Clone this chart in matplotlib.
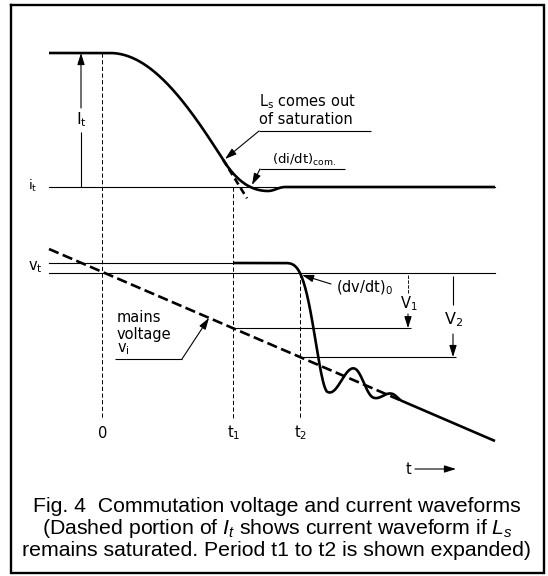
import numpy as np
import matplotlib
matplotlib.use("Agg")
import matplotlib.pyplot as plt

plt.rcParams["lines.scale_dashes"] = False
plt.rcParams["mathtext.fontset"] = "custom"
plt.rcParams["mathtext.rm"] = "DejaVu Sans"
plt.rcParams["mathtext.it"] = "Liberation Sans:italic"

# ---- waveform geometry, in figure pixels (y grows downward) ----
time_marks_x = [102, 233, 300]
time_labels = ["0", r"$\mathregular{t_1}$", r"$\mathregular{t_2}$"]
current_levels_y = [53, 187]        # I_t level, i_t level
voltage_levels_y = [263, 273]       # upper and lower v_t lines
trace_x = [49, 495]                 # left / right ends of the traces
mains_y = [249, 441]                # mains voltage at the trace ends

current_fall = [110, 130]           # start of fall, quarter-period width
sat_exit_x = 223                    # L_s comes out of saturation
sat_dash_end_x = 247
current_dip = [268, 4]              # position and depth of the undershoot
current_settle_x = 285

v_knee_x = 283
ring_x = [328, 355, 373, 393, 402]  # extremes of the ringing
ring_dev = [23, -12, 9, -3, 0]      # offset from the mains voltage

TH = 0.8    # thin line width, pt
TK = 1.9    # heavy line width, pt
FS = 10.5   # label size


def mains(x):
    return np.interp(x, trace_x, mains_y)


def half_cos(x, x0, x1, y0, y1):
    u = (x - x0) / (x1 - x0)
    return y0 + (y1 - y0) * (1 - np.cos(np.pi * u)) / 2


def sat_curve(x):
    x0, w = current_fall
    return current_levels_y[0] + (current_levels_y[1] - current_levels_y[0]) * (
        1 - np.cos(np.pi / 2 * (x - x0) / w))


def hermite(x, x0, x1, y0, y1, m0, m1):
    L = x1 - x0
    s = (x - x0) / L
    h00 = 2 * s**3 - 3 * s**2 + 1
    h10 = s**3 - 2 * s**2 + s
    h01 = -2 * s**3 + 3 * s**2
    h11 = s**3 - s**2
    return y0 * h00 + L * m0 * h10 + y1 * h01 + L * m1 * h11


fig = plt.figure(figsize=(5.48, 5.76), dpi=100)
ax = fig.add_axes([0, 0, 1, 1])
ax.set_xlim(0, 548)
ax.set_ylim(576, 0)
ax.axis("off")

# frame
ax.plot([10.5, 544, 544, 10.5, 10.5], [5, 5, 572.5, 572.5, 5], color="k",
        lw=1.7, solid_joinstyle="miter")

I_top, i_t = current_levels_y
v_up, v_lo = voltage_levels_y
xl, xr = trace_x

# ---- current waveform ----
x0, w = current_fall
xa = np.linspace(xl, x0, 20)
xb = np.linspace(x0, sat_exit_x, 120)
slope0 = (i_t - I_top) * (np.pi / 2) / w * np.sin(
    np.pi / 2 * (sat_exit_x - x0) / w)
xc = np.linspace(sat_exit_x, current_dip[0], 80)
yc = i_t + hermite(xc, sat_exit_x, current_dip[0],
                   sat_curve(sat_exit_x) - i_t, current_dip[1], slope0, 0)
xd = np.linspace(current_dip[0], current_settle_x, 30)
yd = half_cos(xd, current_dip[0], current_settle_x, i_t + current_dip[1], i_t)
xe = np.array([current_settle_x, xr])
cur_x = np.concatenate([xa, xb, xc, xd, xe])
cur_y = np.concatenate([np.full_like(xa, I_top), sat_curve(xb), yc, yd,
                        np.full_like(xe, i_t)])
ax.plot(cur_x, cur_y, color="k", lw=TK, solid_capstyle="butt")
# current if L_s stayed saturated
xs = np.linspace(sat_exit_x, sat_dash_end_x, 20)
ax.plot(xs, sat_curve(xs), color="k", lw=TK, dashes=(5, 3))
# i_t reference line
ax.plot([xl, xr], [i_t, i_t], color="k", lw=TH)

# ---- voltage waveform ----
ax.plot([xl, xr], [v_lo, v_lo], color="k", lw=TH)
ax.plot([xl, time_marks_x[1]], [v_up, v_up], color="k", lw=TH)
vx = [np.linspace(time_marks_x[1], v_knee_x, 20)]
vy = [np.full(20, v_up)]
xk = np.linspace(v_knee_x, ring_x[0], 80)
uk = ((xk - v_knee_x) / (ring_x[0] - v_knee_x)) ** 1.76
y_trough = mains(ring_x[0]) + ring_dev[0]
vx.append(xk)
vy.append(v_up + (y_trough - v_up) * (1 - np.cos(np.pi * uk)) / 2)
for i in range(len(ring_x) - 1):
    xr_seg = np.linspace(ring_x[i], ring_x[i + 1], 40)
    vx.append(xr_seg)
    vy.append(mains(xr_seg) + half_cos(xr_seg, ring_x[i], ring_x[i + 1],
                                       ring_dev[i], ring_dev[i + 1]))
xt = np.array([ring_x[-1], xr])
vx.append(xt)
vy.append(mains(xt))
ax.plot(np.concatenate(vx), np.concatenate(vy), color="k", lw=TK,
        solid_capstyle="butt", solid_joinstyle="round")

# mains voltage (dashed up to where the thyristor voltage settles)
xm = np.array([xl, ring_x[-1]])
ax.plot(xm, mains(xm), color="k", lw=TK, dashes=(7.5, 3.2))

# ---- time markers ----
time_tops = [I_top, i_t, v_lo]
for x, top, lab in zip(time_marks_x, time_tops, time_labels):
    ax.plot([x, x], [top, 419], color="k", lw=TH * 0.9, dashes=(3.0, 1.8))
    ax.text(x + 1, 433, lab, ha="center", va="center", fontsize=FS)


def arrow(tip, tail, lw=TH):
    ax.annotate("", xy=tip, xytext=tail,
                arrowprops=dict(arrowstyle="-|>,head_length=0.7,head_width=0.22",
                                lw=lw, color="k", shrinkA=0, shrinkB=0,
                                mutation_scale=10))


def seg(xs_, ys_, lw=TH):
    ax.plot(xs_, ys_, color="k", lw=lw, solid_capstyle="butt")


# I_t amplitude arrow
seg([81, 81], [i_t, 132])
arrow((81, I_top), (81, 108))
ax.text(81, 120, r"$\mathregular{I_t}$", ha="center", va="center",
        fontsize=FS + 1)
ax.text(33, i_t - 1, r"$\mathregular{i_t}$", ha="center", va="center",
        fontsize=FS - 1)
ax.text(35, v_up + 4, r"$\mathregular{v_t}$", ha="center", va="center",
        fontsize=FS)

# annotations on the current trace
ax.text(259, 102, r"$\mathregular{L_s}$ comes out", ha="left", va="center",
        fontsize=FS)
ax.text(259, 119, "of saturation", ha="left", va="center", fontsize=FS)
seg([259, 371], [131, 131])
arrow((225, 159), (259, 131))
ax.text(272, 160, r"$\mathregular{(di/dt)_{com.}}$", ha="left",
        va="center", fontsize=FS - 1)
seg([260, 345], [169, 169])
arrow((252, 185), (260, 169))

# annotations on the voltage trace
ax.text(336, 288, r"$\mathregular{(dv/dt)_0}$", ha="left", va="center",
        fontsize=FS)
arrow((302, 275), (331, 284))

v1_x, v2_x = 408, 453
y_v1 = mains(time_marks_x[1])
y_v2 = mains(time_marks_x[2])
seg([time_marks_x[1], v1_x + 3], [y_v1, y_v1])
seg([time_marks_x[2], v2_x + 3], [y_v2, y_v2])
ax.plot([v1_x, v1_x], [v_lo + 2, 293], color="k", lw=TH * 0.8,
        dashes=(2.5, 1))
arrow((v1_x, y_v1), (v1_x, 314))
ax.text(v1_x + 1, 304, r"$\mathregular{V_1}$", ha="center", va="center",
        fontsize=FS)
seg([v2_x, v2_x], [v_lo + 3, 305])
arrow((v2_x, y_v2), (v2_x, 334))
ax.text(v2_x + 1, 320, r"$\mathregular{V_2}$", ha="center", va="center",
        fontsize=FS + 1)

ax.text(117, 318, "mains", ha="left", va="center", fontsize=FS)
ax.text(117, 334, "voltage", ha="left", va="center", fontsize=FS)
ax.text(117, 349, r"$\mathregular{v_i}$", ha="left", va="center", fontsize=FS)
seg([115, 182], [359, 359])
arrow((209, mains(209)), (182, 359))

# time axis arrow
ax.text(409, 469, "t", ha="center", va="center", fontsize=FS)
arrow((456, 469), (415, 469))

# caption
cap = dict(ha="center", va="center", fontsize=15.3, family="Liberation Sans")
ax.text(277, 507, "Fig. 4  Commutation voltage and current waveforms", **cap)
ax.text(277, 528, r"(Dashed portion of $\mathit{I_t}$ shows current waveform "
        r"if $\mathit{L_s}$", **cap)
ax.text(277, 550, "remains saturated. Period t1 to t2 is shown expanded)",
        **cap)

fig.savefig("out.png", dpi=100)
